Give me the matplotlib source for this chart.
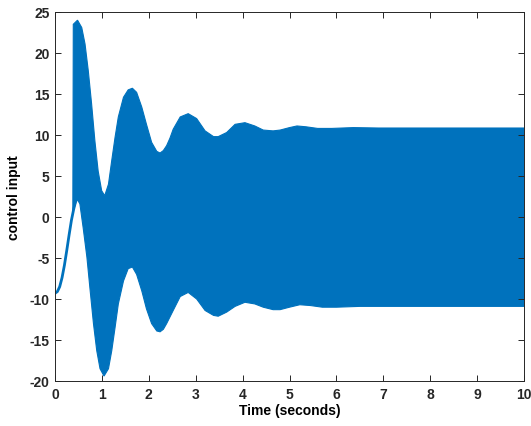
import numpy as np
import matplotlib.pyplot as plt

# initial single trace before the oscillating part starts
line_t = [0.0, 0.05, 0.10, 0.15, 0.20, 0.25, 0.30, 0.35, 0.40, 0.44, 0.47]
line_y = [-9.3, -9.1, -8.5, -7.4, -5.9, -4.1, -2.2, -0.4, 1.0, 1.9, 2.2]

# upper envelope of the fast oscillation
up_t = [0.38, 0.39, 0.48, 0.57, 0.64, 0.71, 0.78, 0.85, 0.92, 0.995, 1.06,
        1.14, 1.21, 1.28, 1.35, 1.46, 1.56, 1.65, 1.74, 1.85, 1.95, 2.06,
        2.17, 2.24, 2.31, 2.38, 2.45, 2.52, 2.67, 2.84, 3.02, 3.20, 3.38,
        3.48, 3.66, 3.84, 4.05, 4.26, 4.44, 4.65, 4.80, 5.0, 5.16, 5.35,
        5.6, 5.9, 6.36, 6.9, 10.0]
up_y = [0.6, 23.5, 24.0, 23.1, 21.1, 17.8, 13.8, 9.3, 5.6, 3.2, 2.6,
        4.0, 6.9, 9.7, 12.2, 14.6, 15.5, 15.7, 15.2, 13.4, 11.3, 9.1,
        8.0, 7.8, 8.1, 8.7, 9.6, 10.7, 12.2, 12.6, 12.0, 10.5, 9.8,
        9.8, 10.3, 11.3, 11.5, 11.1, 10.6, 10.5, 10.6, 10.9, 11.1, 11.0,
        10.8, 10.8, 10.9, 10.85, 10.85]

# lower envelope
lo_t = [0.38, 0.47, 0.53, 0.60, 0.68, 0.75, 0.82, 0.89, 0.96, 1.045, 1.14,
        1.21, 1.28, 1.35, 1.46, 1.56, 1.65, 1.74, 1.85, 1.95, 2.06, 2.17,
        2.24, 2.31, 2.38, 2.45, 2.52, 2.67, 2.84, 3.02, 3.20, 3.38, 3.48,
        3.66, 3.84, 4.05, 4.26, 4.44, 4.65, 4.80, 5.0, 5.22, 5.45, 5.7,
        6.0, 6.5, 10.0]
lo_y = [0.6, 2.2, 1.6, -1.3, -4.9, -9.0, -13.0, -16.3, -18.5, -19.4, -18.5,
        -16.3, -13.5, -10.6, -7.8, -6.3, -6.1, -7.0, -9.0, -11.2, -13.0, -13.9,
        -14.0, -13.7, -13.0, -12.2, -11.4, -9.7, -9.2, -10.0, -11.4, -12.0, -12.1,
        -11.6, -10.9, -10.4, -10.6, -11.0, -11.3, -11.3, -11.0, -10.7, -10.8, -11.0,
        -11.0, -10.9, -10.9]

blue = '#0072BD'
plt.rcParams['font.family'] = ['Liberation Sans', 'DejaVu Sans']
plt.rcParams['font.weight'] = 'bold'
plt.rcParams['axes.unicode_minus'] = False

fig = plt.figure(figsize=(5.31, 4.27), dpi=100)
ax = fig.add_axes([0.1036, 0.1054, 0.8832, 0.8642])

ax.plot(line_t, line_y, color=blue, lw=2)
ax.fill(np.r_[up_t, lo_t[::-1]], np.r_[up_y, lo_y[::-1]], color=blue, lw=0.8, ec=blue)

ax.set_xlim(0, 10)
ax.set_ylim(-20, 25)
ax.set_xticks(range(0, 11))
ax.set_yticks(range(-20, 26, 5))
ax.tick_params(direction='in', top=True, right=True, length=4, width=0.7,
               labelsize=10, colors='#262626', pad=4)
for s in ax.spines.values():
    s.set_color('#262626')
    s.set_linewidth(0.7)
ax.set_xlabel('Time (seconds)', fontsize=10, fontweight='bold', labelpad=2)
ax.set_ylabel('control input', fontsize=10, fontweight='bold', labelpad=6)

fig.savefig('out.png', dpi=100)
